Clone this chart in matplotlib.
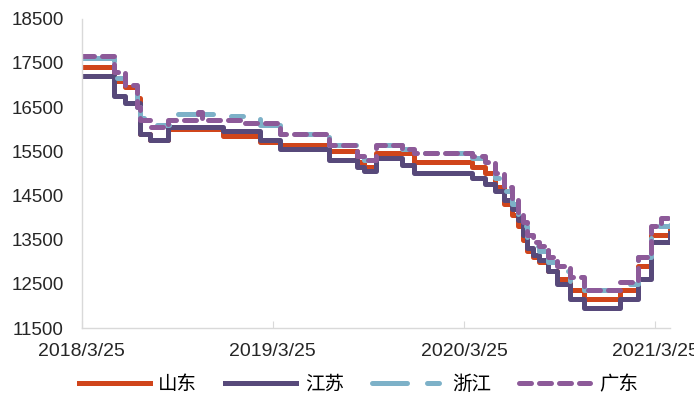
import pandas as pd
import matplotlib
matplotlib.use('Agg')
import matplotlib.pyplot as plt
import matplotlib.dates as mdates

plt.rcParams['font.family'] = ['Liberation Sans', 'Noto Sans CJK SC', 'DejaVu Sans']

# step change dates (shared grid)
dates = pd.to_datetime([
    '2018-03-25', '2018-05-25', '2018-06-15', '2018-07-08', '2018-07-14', '2018-08-02',
    '2018-09-05', '2018-09-24', '2018-11-02', '2018-11-09', '2018-12-10', '2018-12-19',
    '2019-01-30', '2019-02-28', '2019-04-07', '2019-07-11', '2019-09-02', '2019-09-16',
    '2019-10-09', '2019-11-27', '2019-12-20', '2020-04-08', '2020-05-03', '2020-05-22',
    '2020-06-10', '2020-06-24', '2020-07-05', '2020-07-15', '2020-07-24', '2020-08-03',
    '2020-08-16', '2020-09-01', '2020-09-18', '2020-10-13', '2020-11-10', '2021-01-16',
    '2021-02-20', '2021-03-18', '2021-04-06', '2021-04-22'])

shandong = [17400, 17100, 16950, 16700, 15900, 15750, 16000, 16000, 16000, 16000, 16000, 15850,
            15850, 15700, 15650, 15500, 15250, 15150, 15450, 15450, 15250, 15150, 15000, 14700,
            14300, 14050, 13800, 13500, 13250, 13100, 13000, 12800, 12600, 12350, 12150, 12350,
            12900, 13600, 13600, 13800]
jiangsu = [17200, 16750, 16600, 16600, 15900, 15750, 16050, 16050, 16050, 16050, 16050, 15950,
           15950, 15750, 15550, 15300, 15150, 15050, 15350, 15200, 15000, 14900, 14750, 14600,
           14400, 14200, 13950, 13600, 13300, 13150, 13050, 12800, 12500, 12150, 11950, 12150,
           12600, 13450, 13450, 13650]
zhejiang = [17600, 17150, 16950, 16500, 16250, 16100, 16100, 16350, 16350, 16350, 16300, 16300,
            16300, 16100, 15900, 15650, 15450, 15300, 15650, 15550, 15450, 15350, 15200, 14900,
            14600, 14300, 14000, 13800, 13500, 13350, 13250, 13000, 12800, 12550, 12350, 12500,
            13100, 13800, 13800, 13950]
guangdong = [17650, 17300, 17000, 16500, 16200, 16050, 16200, 16200, 16400, 16200, 16200, 16200,
             16150, 16150, 15900, 15650, 15400, 15300, 15650, 15550, 15450, 15400, 15250, 15000,
             14700, 14400, 14100, 13900, 13600, 13450, 13350, 13100, 12900, 12650, 12350, 12550,
             13100, 13800, 14000, 14050]

labels = ['山东', '江苏', '浙江', '广东']
tick_dates = pd.to_datetime(['2018-03-25', '2019-03-25', '2020-03-25', '2021-03-25'])

fig = plt.figure(figsize=(6.94, 3.94), dpi=100)
ax = fig.add_axes([0.118, 0.1675, 0.847, 0.785])

lw = 3.6
ax.plot(dates, shandong, drawstyle='steps-post', color='#D0451B', lw=lw, label=labels[0])
ax.plot(dates, jiangsu, drawstyle='steps-post', color='#57497A', lw=lw, label=labels[1])
ax.plot(dates, zhejiang, drawstyle='steps-post', color='#7DB1C8', lw=lw,
        linestyle=(0, (7.0, 4.0, 2.4, 4.0)), dash_capstyle='round', label=labels[2])
ax.plot(dates, guangdong, drawstyle='steps-post', color='#8D5A99', lw=lw,
        linestyle=(0, (2.4, 1.6)), dash_capstyle='round', label=labels[3])

ax.set_ylim(11500, 18500)
ax.set_yticks(range(11500, 18501, 1000))
ax.set_xlim(pd.Timestamp('2018-03-25'), pd.Timestamp('2021-04-22'))
ax.set_xticks(tick_dates)
ax.xaxis.set_major_formatter(mdates.DateFormatter('%Y/%-m/%-d'))

for s in ['top', 'right']:
    ax.spines[s].set_visible(False)
for s in ['left', 'bottom']:
    ax.spines[s].set_color('#D9D9D9')
    ax.spines[s].set_linewidth(1.0)

ax.tick_params(axis='y', length=0, pad=13, labelsize=13.5, labelcolor='#262626')
ax.tick_params(axis='x', direction='in', length=5, color='#D9D9D9', pad=11,
               labelsize=14, labelcolor='#262626')

fig.legend(loc='center left', bbox_to_anchor=(0.088, 0.024), ncol=4, frameon=False,
           prop={'family': ['Noto Sans CJK SC'], 'size': 14},
           handlelength=3.65, handletextpad=0.45, columnspacing=1.45)

fig.savefig('out.png', dpi=100)
